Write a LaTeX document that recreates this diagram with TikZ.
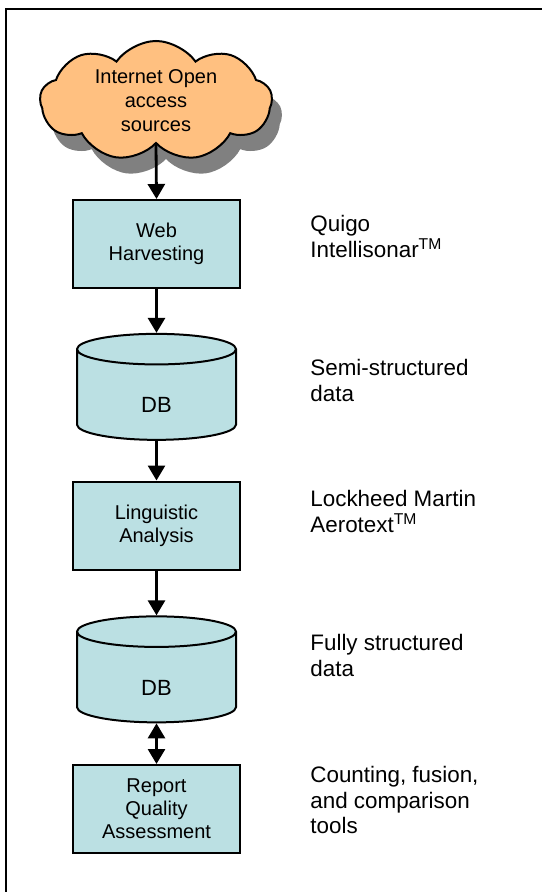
\documentclass[tikz,border=0pt]{standalone}
\usepackage{fontspec}
\setmainfont{Liberation Sans}
\usetikzlibrary{arrows.meta}
\usetikzlibrary{shapes.geometric}
\usetikzlibrary{shapes.symbols}
\usetikzlibrary{shadows}
\usetikzlibrary{positioning}
\definecolor{boxblue}{RGB}{187,224,227}
\definecolor{cloudorange}{RGB}{255,192,128}
\definecolor{shadowgray}{RGB}{128,128,128}
\tikzset{flow/.style = {line width = 1.4pt, -{Triangle[width = 8.5pt, length = 7.5pt]}}}
\tikzset{dflow/.style = {line width = 1.4pt, {Triangle[width = 8.5pt, length = 7.5pt]}-{Triangle[width = 8.5pt, length = 7.5pt]}}}
\tikzset{proc/.style = {draw, line width = 1pt, fill = boxblue, minimum width = 83.5pt,
                        minimum height = 44pt, inner sep = 0, align = center,
                        font = \fontsize{10}{11.5}\selectfont}}
\tikzset{db/.style = {draw, cylinder, shape border rotate = 90, aspect = 1.0, line width = 1pt,
                      fill = boxblue, minimum width = 79.5pt, minimum height = 53pt, inner sep = 0,
                      text height = 17.5pt, text depth = 0pt, font = \fontsize{11}{13}\selectfont}}
\tikzset{note/.style = {anchor = north west, align = left, inner sep = 0,
                        font = \fontsize{11.2}{12.8}\selectfont}}

\begin{document}
\begin{tikzpicture}[x = 0.5pt, y = -0.5pt]
      \useasboundingbox (0, 0) rectangle (542, 892);
      \draw [line width = 1.2pt] (6, 892) -- (6, 9) -- (542, 9);

      % flow chain
      \node (src) at (156, 101) [cloud, cloud puffs = 9, cloud puff arc = 110, aspect = 2, draw,
            line width = 1pt, fill = cloudorange, minimum width = 116pt, minimum height = 60pt,
            inner sep = 0, align = center, font = \fontsize{10}{12}\selectfont,
            drop shadow = {shadow xshift = 5pt, shadow yshift = -8pt, fill = shadowgray, opacity = 1}]
            {Internet Open\\access\\sources};
      \node (harvest) at (156.5, 244) [proc] {Web\\Harvesting};
      \node (semidb) at (156.5, 395) [db] {DB};
      \node (ling) at (156.5, 525.5) [proc] {Linguistic\\Analysis};
      \node (fulldb) at (156.5, 677.5) [db] {DB};
      \node (rqa) at (156.5, 809) [proc] {Report\\Quality\\Assessment};

      \draw [flow] (src.south) -- (harvest.north);
      \draw [flow] (harvest.south) -- (semidb.north);
      \draw [flow] (semidb.south) -- (ling.north);
      \draw [flow] (ling.south) -- (fulldb.north);
      \draw [dflow] (fulldb.south) -- (rqa.north);

      % tools and data on the right
      \node (quigo) at (310, 215) [note] {Quigo\\Intellisonar\textsuperscript{TM}};
      \node (semi) at (310, 359) [note] {Semi-structured\\data};
      \node (lockheed) at (310, 490) [note] {Lockheed Martin\\Aerotext\textsuperscript{TM}};
      \node (fully) at (310, 634) [note] {Fully structured\\data};
      \node (counting) at (310, 766) [note] {Counting, fusion,\\and comparison\\tools};
\end{tikzpicture}
\end{document}
